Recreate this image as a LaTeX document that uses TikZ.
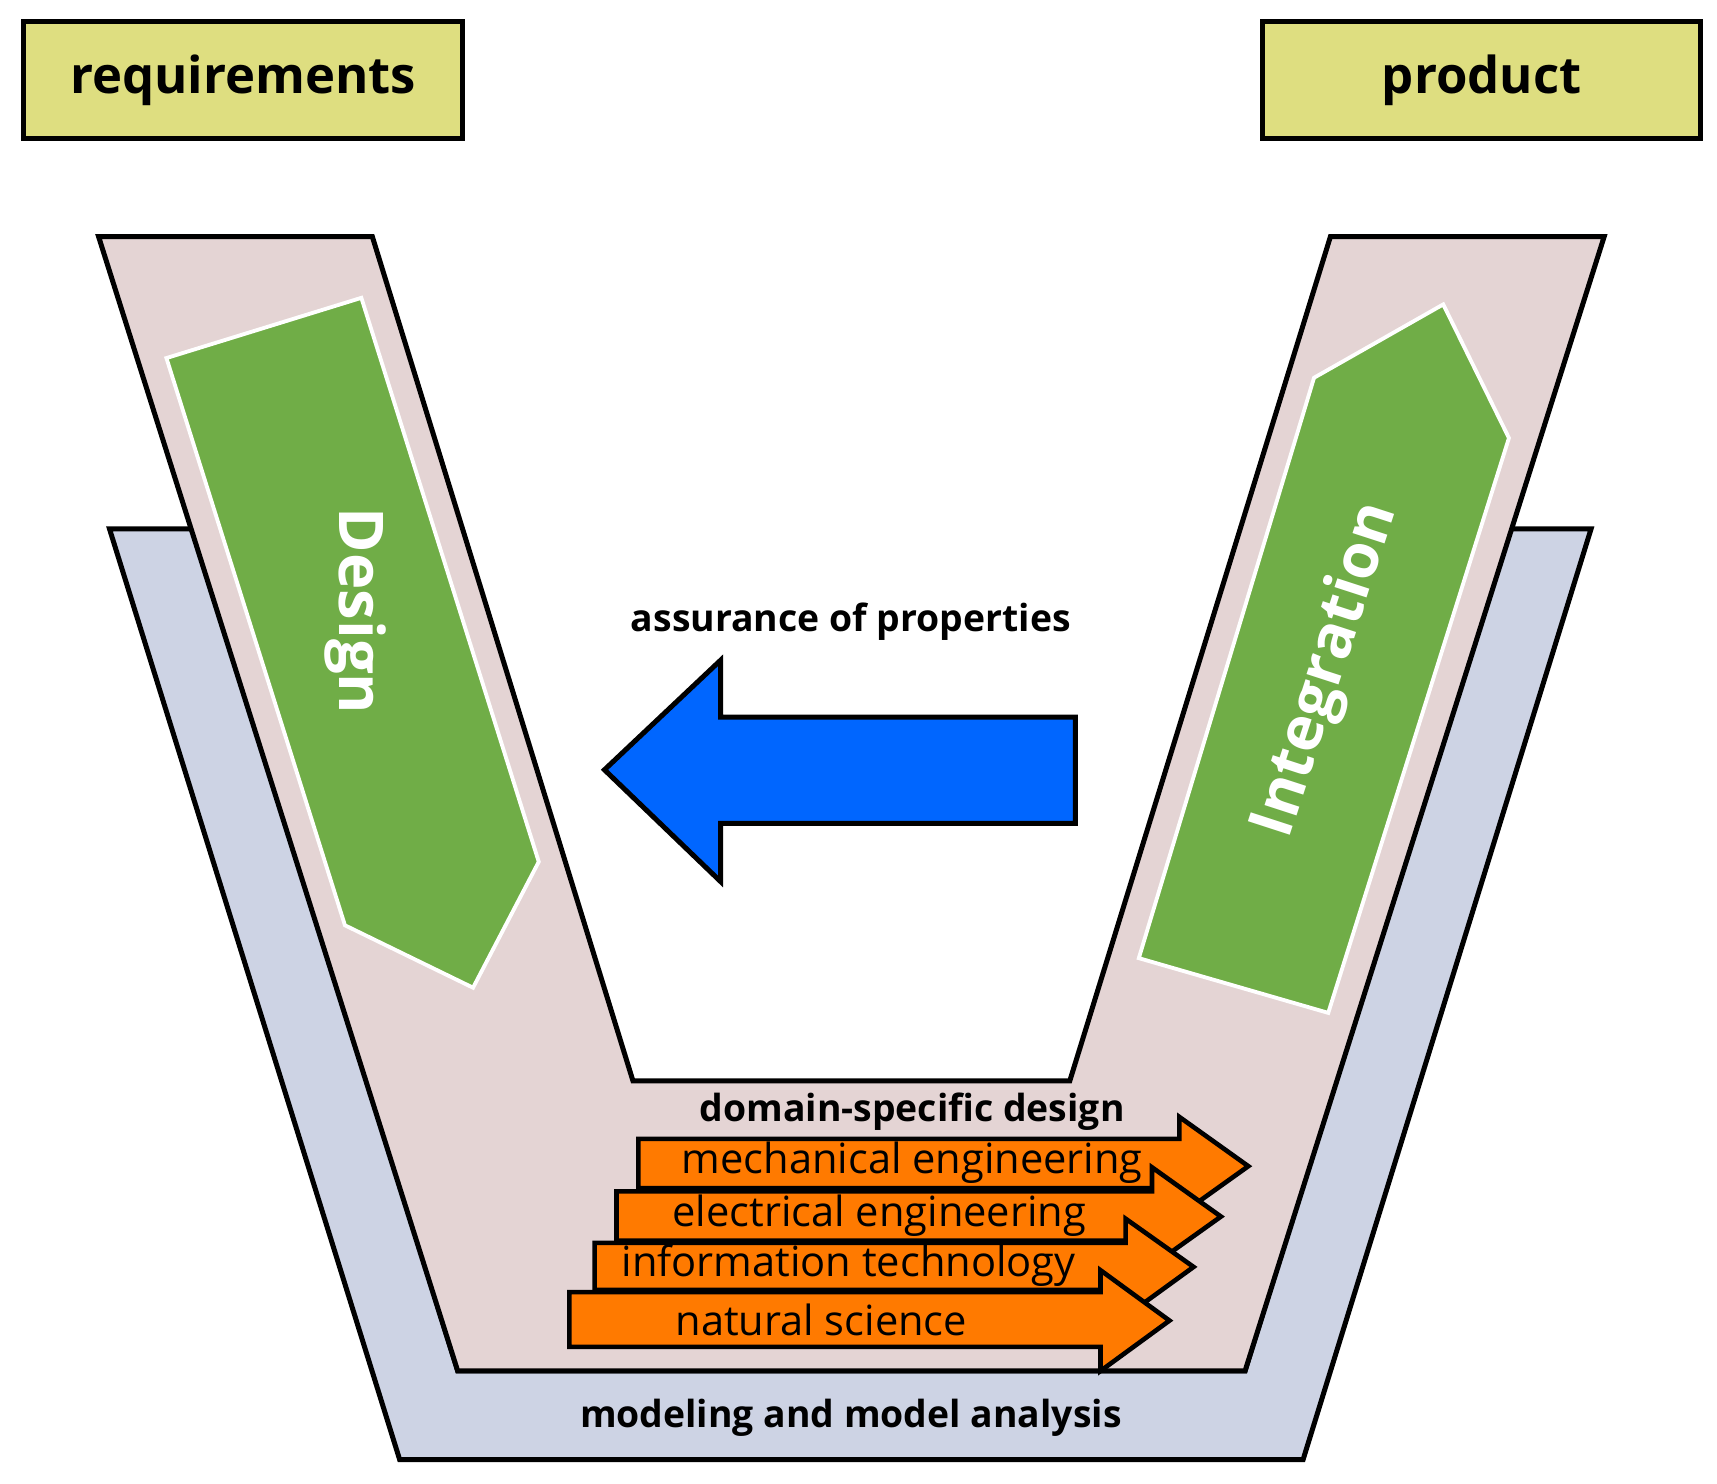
\documentclass[tikz,border=0pt]{standalone}
\usepackage{fontspec}
\setmainfont{Open Sans}
\begin{document}
\begin{tikzpicture}[x=0.01cm,y=-0.01cm,
  shp/.style={draw=black,line width=1.3pt,line join=miter},
  ybox/.style={shp,fill=boxy,minimum width=4cm,minimum height=1.07cm,font=\bfseries\fontsize{13.2}{14}\selectfont},
  green/.style={fill=grn,draw=white,line width=1pt},
  orng/.style={shp,fill=orn,line width=1.2pt},
  lbl/.style={font=\bfseries\fontsize{9.7}{10}\selectfont},
  olbl/.style={font=\fontsize{10.8}{11}\selectfont},
  gl/.style={white,font=\bfseries\fontsize{16}{16}\selectfont}]
\definecolor{boxy}{HTML}{DEDE80}
\definecolor{blu}{HTML}{CDD3E4}
\definecolor{pnk}{HTML}{E4D4D4}
\definecolor{grn}{HTML}{70AD47}
\definecolor{arr}{HTML}{0066FF}
\definecolor{orn}{HTML}{FF7A00}
\useasboundingbox (0,0) rectangle (1568,1355);
\node[ybox] (req) at (222,73) {requirements};
\node[ybox] (prod) at (1353,73) {product};
\draw[shp,fill=blu] (100,483)--(180,483)--(418,1252)--(1137,1252)--(1375,483)--(1453,483)--(1190,1333)--(365,1333)--cycle;
\draw[shp,fill=pnk] (90,216)--(340,216)--(578,987)--(977,987)--(1215,216)--(1465,216)--(1137,1252)--(418,1252)--cycle;
\draw[green] (152,327)--(330,272)--(492,787)--(432,902)--(315,845)--cycle;
\draw[green] (1040,875)--(1200,345)--(1318,278)--(1378,400)--(1213,925)--cycle;
\node[gl,rotate=-90] (des) at (325,558) {Design};
\node[gl,rotate=72] (int) at (1212,612) {Integration};
\draw[shp,fill=arr] (552,703)--(658,603)--(658,655)--(982,655)--(982,752)--(658,752)--(658,805)--cycle;
\node[lbl] (ass) at (777,568) {assurance of properties};
\node[lbl] (dom) at (833,1015) {domain-specific design};
\node[lbl] (mod) at (777,1295) {modeling and model analysis};
\draw[orng] (583,1040)--(1077,1040)--(1077,1020)--(1140,1065)--(1077,1110)--(1077,1085)--(583,1085)--cycle;
\node[olbl] (me) at (833,1062) {mechanical engineering};
\draw[orng] (563,1088)--(1052,1088)--(1052,1066)--(1115,1111)--(1052,1156)--(1052,1133)--(563,1133)--cycle;
\node[olbl] (ee) at (803,1110) {electrical engineering};
\draw[orng] (543,1135)--(1028,1135)--(1028,1113)--(1090,1157)--(1028,1202)--(1028,1178)--(543,1178)--cycle;
\node[olbl] (it) at (775,1156) {information technology};
\draw[orng] (520,1180)--(1005,1180)--(1005,1160)--(1068,1206)--(1005,1252)--(1005,1230)--(520,1230)--cycle;
\node[olbl] (ns) at (750,1205) {natural science};
\end{tikzpicture}
\end{document}
